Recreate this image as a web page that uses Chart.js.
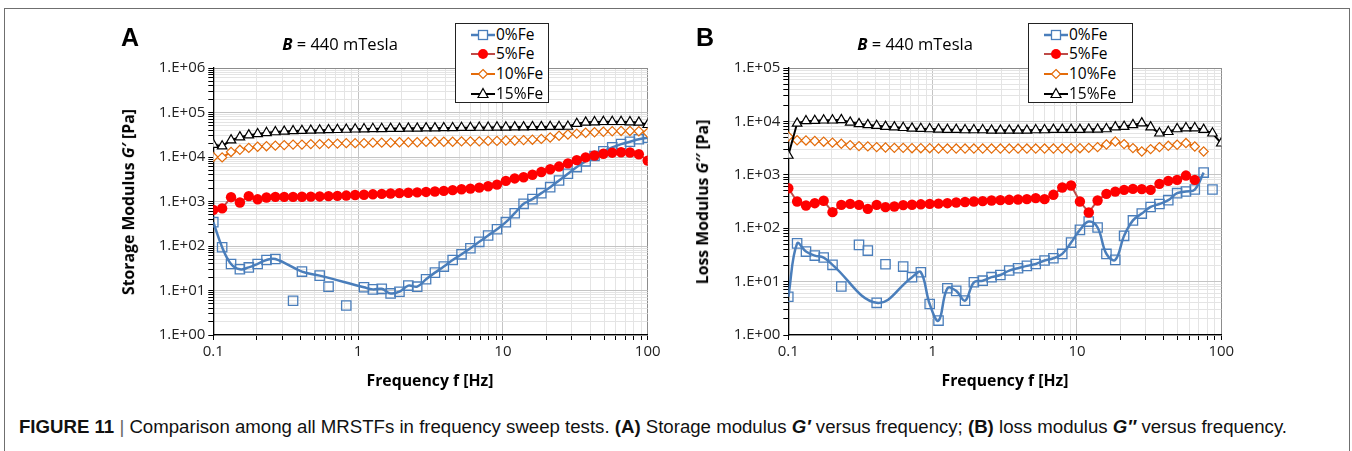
<!DOCTYPE html>
<html>
<head>
<meta charset="utf-8">
<script src="https://cdn.jsdelivr.net/npm/chart.js@4.4.0/dist/chart.umd.min.js"></script>
<style>
    html, body { margin: 0; padding: 0; background: #fff; }
    body { width: 1352px; height: 451px; position: relative; overflow: hidden; font-family: 'Open Sans', sans-serif; color: #000; }
    .frame { position: absolute; left: 4px; top: 8px; width: 1346px; height: 480px; box-sizing: border-box; border: 1.5px solid #6f6f6f; }
    .panel { position: absolute; top: 0; width: 575px; height: 400px; }
    .abs { position: absolute; white-space: nowrap; line-height: 1; }
    .center { transform: translate(-50%, -50%); }
    .letter { font-family: 'Liberation Sans', Arial, sans-serif; font-weight: bold; font-size: 25px; }
    .head { font-size: 16.5px; }
    .ytitle { font-weight: bold; font-size: 15.8px; transform: translate(-50%, -50%) rotate(-90deg); }
    .xtitle { font-weight: bold; font-size: 15.8px; }
    .legend { position: absolute; box-sizing: border-box; border: 1.3px solid #222; background: #fff; height: 80px; }
    .legend .row { position: absolute; height: 14px; }
    .legend svg { position: absolute; left: 0; top: 0; }
    .legend span { position: absolute; top: -3px; font-size: 15.5px; line-height: 19px; }
    .caption { left: 19px; top: 419px; font-family: 'Liberation Sans Narrow', 'Liberation Sans', Arial, sans-serif; font-size: 17.5px; transform-origin: 0 0; color: #111; }
    .caption .bar { color: #666; }
</style>
</head>
<body>
<div class="frame"></div>

<div class="panel" style="left:100px"><canvas id="chartA" width="575" height="400"></canvas></div>
<div class="panel" style="left:675px"><canvas id="chartB" width="575" height="400"></canvas></div>

<div class="abs letter" style="left:121px; top:25px">A</div>
<div class="abs letter" style="left:696px; top:25px">B</div>
<div class="abs head center" style="left:340px; top:44px"><b><i>B</i></b> = 440 mTesla</div>
<div class="abs head center" style="left:915px; top:44px"><b><i>B</i></b> = 440 mTesla</div>
<div class="abs ytitle" style="left:129px; top:202px">Storage Modulus <i>G′</i> [Pa]</div>
<div class="abs ytitle" style="left:703px; top:202px">Loss Modulus <i>G′′</i> [Pa]</div>
<div class="abs xtitle center" style="left:430px; top:381px">Frequency f [Hz]</div>
<div class="abs xtitle center" style="left:1005px; top:381px">Frequency f [Hz]</div>

<div id="legendA" class="legend" style="left:455px; top:23px; width:94px"></div>
<div id="legendB" class="legend" style="left:1028px; top:23px; width:105px"></div>

<div id="caption" class="abs caption"><b>FIGURE 11</b> <span class="bar">|</span> Comparison among all MRSTFs in frequency sweep tests. <b>(A)</b> Storage modulus <b><i>G′</i></b> versus frequency; <b>(B)</b> loss modulus <b><i>G″</i></b> versus frequency.</div>

<script>
// sweep frequencies [Hz]
const freq = [0.1, 0.1151, 0.1326, 0.1526, 0.1758, 0.2024, 0.2330, 0.2683, 0.3089, 0.3556,
    0.4095, 0.4715, 0.5429, 0.6251, 0.7197, 0.8286, 0.9541, 1.0985, 1.2649, 1.4563,
    1.6768, 1.9307, 2.2230, 2.5595, 2.9471, 3.3932, 3.9069, 4.4984, 5.1795, 5.9636,
    6.8665, 7.9060, 9.1030, 10.481, 12.068, 13.895, 15.999, 18.421, 21.210, 24.421,
    28.118, 32.375, 37.276, 42.919, 49.417, 56.899, 65.513, 75.431, 86.851, 100];

const seriesNames = ['0%Fe', '5%Fe', '10%Fe', '15%Fe'];
const xTickLabels = ['0.1', '1', '10', '100'];
const storageTickLabels = ['1.E+00', '1.E+01', '1.E+02', '1.E+03', '1.E+04', '1.E+05', '1.E+06'];
const lossTickLabels = ['1.E+00', '1.E+01', '1.E+02', '1.E+03', '1.E+04', '1.E+05'];

// (A) storage modulus G' [Pa]
const storage0 = [343, 94, 39.5, 30, 33, 39.5, 48.6, 51, null, 5.9,
    26.6, null, 21.6, 12.2, null, 4.6, null, 11.8, 10.6, 10.9,
    8.6, 9.4, 12.9, 12.2, 17.9, 25.2, 34.5, 48.6, 65, 89,
    124, 172, 238, 343, 546, 886, 1130, 1540, 2100, 2960,
    4200, 5930, 8000, 10500, 13500, 16500, 19500, 22000, 25000, 27000];
const storage0OffLine = [9, 13, 15];
const storage5 = [650, 700, 1250, 950, 1320, 1120, 1230, 1270, 1270, 1270,
    1280, 1290, 1300, 1320, 1340, 1360, 1400, 1420, 1450, 1480,
    1510, 1540, 1570, 1600, 1640, 1680, 1730, 1800, 1880, 1950,
    2050, 2200, 2400, 2900, 3300, 3500, 4000, 4600, 5300, 6100,
    7200, 8500, 9800, 10800, 11800, 12500, 12800, 12600, 11500, 8300];
const storage10 = [10000, 9800, 13000, 14500, 16000, 17000, 17500, 18000, 18500, 19000,
    19000, 19500, 19500, 20000, 20000, 20500, 20500, 20500, 21000, 21000,
    21000, 21500, 21500, 21500, 22000, 22000, 22000, 22000, 22500, 22500,
    22500, 23000, 23000, 23500, 23500, 24000, 24500, 25500, 27500, 30000,
    32000, 33500, 35000, 36000, 37000, 38000, 38500, 38500, 38000, 35000];
const storage15 = [19000, 17500, 24000, 28000, 31000, 33000, 35000, 36500, 37500, 38500,
    39000, 39500, 40000, 40500, 41000, 41500, 42000, 42500, 43000, 43000,
    43500, 43500, 44000, 44000, 44500, 44500, 45000, 45000, 45500, 45500,
    46000, 46000, 46500, 46500, 47000, 47000, 47500, 47500, 48000, 48000,
    48500, 56000, 60000, 61000, 62000, 62000, 62000, 61000, 60000, 53000];

// (B) loss modulus G'' [Pa]
const loss0 = [5.2, 52, 36.5, 30.7, 28.2, 20.6, 8.1, null, 48.7, 38.1,
    4.0, 21.1, null, 19.1, 12.1, 15, 3.8, 1.86, 7.5, 6.7,
    4.4, 9.7, 10.4, 12.1, 13.3, 16.1, 17.8, 19.7, 21.4, 24.8,
    27.4, 33, 53.8, 93, 133, 103, 33, 25.5, 72, 140,
    188, 250, 284, 335, 453, 486, 530, 1100, 530, null];
const loss0OffLine = [6, 8, 9, 11, 13, 48];
const loss5 = [560, 316, 266, 294, 326, 200, 273, 286, 273, 230,
    273, 248, 255, 270, 275, 280, 286, 288, 294, 303,
    310, 316, 322, 330, 335, 340, 345, 350, 365, 350,
    422, 579, 631, 316, 197, 330, 440, 485, 522, 545,
    540, 522, 677, 770, 805, 968, 805, null, null, null];
const loss10 = [5200, 4430, 4400, 4300, 4170, 4000, 3820, 3600, 3450, 3400,
    3300, 3250, 3200, 3200, 3150, 3150, 3150, 3100, 3100, 3100,
    3100, 3100, 3100, 3100, 3100, 3100, 3100, 3100, 3100, 3100,
    3100, 3100, 3150, 3150, 3200, 3300, 3700, 4200, 3760, 3160,
    2730, 3030, 3300, 3490, 3650, 3930, 3390, 2730, null, null];
const loss10LineEnd = 46;
const loss15 = [2300, 9200, 10200, 10300, 10500, 10500, 10700, 9600, 9000, 8600,
    8300, 8000, 7800, 7600, 7400, 7300, 7200, 7100, 7000, 7000,
    6900, 6900, 6900, 6800, 6800, 6800, 6800, 6800, 6900, 6900,
    7000, 7000, 7000, 7000, 7100, 7100, 7200, 7800, 8000, 8600,
    9300, 7800, 6000, 6400, 7200, 7500, 7500, 7000, 6000, 3900];

const styles = [
    { color: '#4a7ebb', line: '#4a7ebb', width: 2.5, point: 'rect', radius: 6.6, fill: 'rgba(255,255,255,0)', pbw: 1.3 },
    { color: '#ff0000', line: '#be4b48', width: 2, point: 'circle', radius: 5.2, fill: '#ff0000', pbw: 0 },
    { color: '#e46c0a', line: '#e46c0a', width: 2, point: 'rectRot', radius: 4.6, fill: '#ffffff', pbw: 1.2 },
    { color: '#000000', line: '#000000', width: 2, point: 'triangle', radius: 5.5, fill: '#ffffff', pbw: 1.2 }
];

const pts = vals => freq.map((f, i) => ({ x: f, y: vals[i] === undefined ? null : vals[i] }));
const isDecade = v => Math.abs(Math.log10(v) - Math.round(Math.log10(v))) < 1e-9;

function gridValues(min, max) {
    const out = [];
    const e0 = Math.round(Math.log10(min)), e1 = Math.round(Math.log10(max));
    for (let e = e0; e < e1; e++) {
        for (let m = 1; m <= 9; m++) out.push(m * Math.pow(10, e));
    }
    out.push(max);
    return out;
}

function seriesSet(v0, off0, v5, v10, v15, lineEnd10) {
    const s = styles;
    const pointOpts = st => ({
        pointStyle: st.point, pointRadius: st.radius, pointBackgroundColor: st.fill,
        pointBorderColor: st.color, pointBorderWidth: st.pbw, pointHoverRadius: st.radius
    });
    return [
        { label: seriesNames[0], data: pts(v0.map((v, i) => off0.includes(i) ? null : v)),
          borderColor: s[0].line, borderWidth: s[0].width, pointRadius: 0, tension: 0.4,
          spanGaps: true, order: 5 },
        Object.assign({ label: seriesNames[0] + ' markers', data: pts(v0), showLine: false, order: 4 }, pointOpts(s[0])),
        Object.assign({ label: seriesNames[1], data: pts(v5), borderColor: s[1].line, borderWidth: s[1].width,
          tension: 0, order: 3 }, pointOpts(s[1])),
        Object.assign({ label: seriesNames[2], data: pts(v10), borderColor: s[2].line, borderWidth: s[2].width,
          tension: 0, order: 2,
          segment: { borderColor: ctx => ctx.p0DataIndex >= lineEnd10 ? 'rgba(0,0,0,0)' : s[2].line } }, pointOpts(s[2])),
        Object.assign({ label: seriesNames[3], data: pts(v15), borderColor: s[3].line, borderWidth: s[3].width,
          tension: 0, order: 1 }, pointOpts(s[3]))
    ];
}

function axis(min, max, labels, extra) {
    const e0 = Math.round(Math.log10(min));
    return Object.assign({
        type: 'logarithmic', min: min, max: max,
        afterBuildTicks: sc => { sc.ticks = gridValues(min, max).map(v => ({ value: v, major: isDecade(v) })); },
        ticks: {
            autoSkip: false, maxRotation: 0, minRotation: 0, padding: 3,
            color: '#222', font: { family: 'Open Sans', size: 15 },
            callback: v => isDecade(v) ? labels[Math.round(Math.log10(v)) - e0] : ''
        },
        grid: {
            color: c => (c.tick && c.tick.value === max) ? '#8c8c8c' : (c.tick && isDecade(c.tick.value) ? '#c4c4c4' : '#e4e4e4'),
            lineWidth: 1, tickLength: 5, tickColor: '#000', drawTicks: true
        },
        border: { display: true, color: '#000', width: 1.3 }
    }, extra);
}

function makeChart(id, pageLeft, plot, yMax, yLabels, data) {
    const ctx = document.getElementById(id).getContext('2d');
    return new Chart(ctx, {
        type: 'line',
        data: { datasets: data },
        options: {
            responsive: false, animation: false,
            layout: { padding: { left: 0, top: plot.top, right: 575 - (plot.right - pageLeft), bottom: 0 } },
            plugins: { legend: { display: false }, tooltip: { enabled: false } },
            scales: {
                x: axis(0.1, 100, xTickLabels, { afterFit: sc => { sc.height = 400 - plot.bottom; } }),
                y: axis(1, yMax, yLabels, { afterFit: sc => { sc.width = plot.left - pageLeft; } })
            }
        }
    });
}

Chart.defaults.font.family = 'Open Sans';

const chartA = makeChart('chartA', 100, { left: 213.3, right: 647.7, top: 68, bottom: 335 }, 1e6, storageTickLabels,
    seriesSet(storage0, storage0OffLine, storage5, storage10, storage15, 49));
const chartB = makeChart('chartB', 675, { left: 788.3, right: 1221.3, top: 68, bottom: 335 }, 1e5, lossTickLabels,
    seriesSet(loss0, loss0OffLine, loss5, loss10, loss15, loss10LineEnd));

// legends drawn as html so text stays text
function markerSvg(st) {
    const cx = 12, cy = 7;
    let shape = '';
    if (st.point === 'rect') {
        shape = `<rect x="${cx - 4.5}" y="${cy - 4.5}" width="9" height="9" fill="#fff" stroke="${st.color}" stroke-width="1.3"/>`;
    } else if (st.point === 'circle') {
        shape = `<circle cx="${cx}" cy="${cy}" r="5" fill="${st.fill}"/>`;
    } else if (st.point === 'rectRot') {
        shape = `<polygon points="${cx},${cy - 4.5} ${cx + 4.5},${cy} ${cx},${cy + 4.5} ${cx - 4.5},${cy}" fill="#fff" stroke="${st.color}" stroke-width="1.2"/>`;
    } else {
        shape = `<polygon points="${cx},${cy - 5.5} ${cx + 5},${cy + 3.5} ${cx - 5},${cy + 3.5}" fill="#fff" stroke="${st.color}" stroke-width="1.2"/>`;
    }
    return `<svg width="24" height="14"><line x1="0" y1="${cy}" x2="24" y2="${cy}" stroke="${st.line}" stroke-width="${st.width}"/>${shape}</svg>`;
}

function fillLegend(id, lineLeft) {
    const box = document.getElementById(id);
    seriesNames.forEach((name, i) => {
        const row = document.createElement('div');
        row.className = 'row';
        row.style.left = lineLeft + 'px';
        row.style.top = (3.5 + i * 19.7) + 'px';
        row.innerHTML = markerSvg(styles[i]) + `<span style="left:25px">${name}</span>`;
        box.appendChild(row);
    });
}
fillLegend('legendA', 15);
fillLegend('legendB', 15);

// squeeze caption to the reference width
const cap = document.getElementById('caption');
const capW = cap.getBoundingClientRect().width;
cap.style.transform = `scaleX(${1268 / capW})`;
</script>
</body>
</html>
